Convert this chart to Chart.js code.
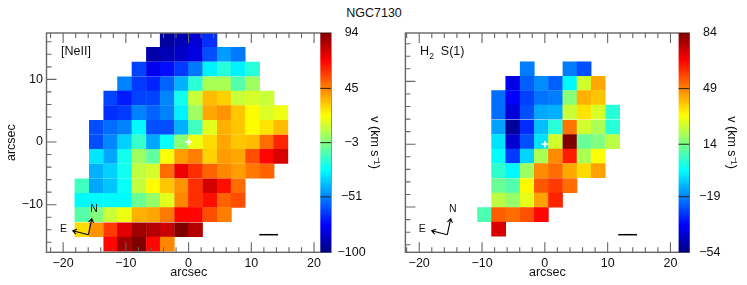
<!DOCTYPE html>
<html>
<head>
<meta charset="utf-8">
<style>
  html, body { margin: 0; padding: 0; background: #fff; }
  body { position: relative; width: 747px; height: 285px; overflow: hidden; }
  canvas { position: absolute; top: 0; filter: blur(0.35px); }
  #leftMap { left: 0; }
  #rightMap { left: 395px; }
  #title {
    position: absolute; left: 0; width: 748px; top: 6px; text-align: center;
    font: 12.5px "Liberation Sans", sans-serif; color: #111;
  }
</style>
<script src="https://cdn.jsdelivr.net/npm/chart.js@4"></script>
</head>
<body>
<div id="title">NGC7130</div>
<canvas id="leftMap" width="390" height="285"></canvas>
<canvas id="rightMap" width="352" height="285"></canvas>
<script>
const _ = null;

// [NeII] velocity map, km/s
const neiiXCenters = [-17, -14.7, -12.4, -10.2, -7.9, -5.6, -3.4, -1.1, 1.1, 3.4, 5.7, 7.9, 10.2, 12.5, 14.7];
const neiiYCenters = [16.3, 14, 11.65, 9.3, 7, 4.7, 2.35, 0, -2.3, -4.65, -7, -9.3, -11.6, -14, -16.3];
const neiiValues = [
  [_, _, _, _, _, _, -94, -90, -84, -67, _, _, _, _, _],
  [_, _, _, _, _, -92, -90, -86, -81, -61, -46, -53, _, _, _],
  [_, _, _, _, -63, -79, -73, -65, -53, -30, -20, -30, -20, _, _],
  [_, _, _, -51, -65, -69, -57, -42, -19, 5, 5, -11, 3, _, _],
  [_, _, -63, -71, -63, -63, -50, -24, 11, 34, 30, 11, 13, 11, _],
  [_, _, -67, -65, -51, -57, -51, -30, 3, 38, 42, 32, 22, 14, 18],
  [_, -61, -55, -51, -28, -61, -61, -42, -15, 16, 36, 32, 22, 26, 34],
  [_, -61, -50, -36, -17, -44, -26, -1, 18, 28, 38, 32, 34, 49, 63],
  [_, -32, -44, -24, 3, -9, 20, 40, 46, 30, 40, 38, 55, 69, 77],
  [_, -42, -36, -24, 9, 13, 49, 73, 61, 51, 44, 40, 47, 51, _],
  [-15, -44, -38, -26, 9, 22, 32, 42, 61, 78, 67, 49, _, _, _],
  [-28, -28, -28, -28, -7, 1, 16, 44, 61, 67, 51, 55, _, _, _],
  [-11, -3, 11, 18, 36, 38, 47, 69, 69, 55, 46, _, _, _, _],
  [28, 42, 59, 75, 88, 84, 80, 94, 84, _, _, _, _, _, _],
  [_, _, 69, 88, 94, 69, 44, _, _, _, _, _, _, _, _]
];
const neiiTicks = [-100, -51, -3, 45, 94];

// H2 S(1) velocity map
const h2XCenters = [-9.6, -7.35, -5.1, -2.8, -0.55, 1.7, 4, 6.25, 8.5, 10.8];
const h2YCenters = [12, 9.7, 7.4, 5.1, 2.7, 0.4, -1.9, -4.2, -6.6, -8.9, -11.2, -13.5];
const h2Values = [
  [_, _, _, -20, _, _, -20, -26, _, _],
  [_, _, -40, -24, -18, -24, -3, 26, 44, _],
  [_, -22, -37, -28, -21, -20, 16, 43, 40, _],
  [_, -22, -42, -26, -14, -13, 25, 36, 27, 3],
  [_, -15, -50, -31, -11, 3, 51, 26, 21, 3],
  [_, -6, -43, -26, -6, 26, 84, 12, 15, 23],
  [_, -2, -29, -8, 21, 48, 63, 21, 32, _],
  [_, 4, -3, 19, 48, 52, 44, 37, 45, _],
  [_, 12, 9, 33, 55, 59, 52, _, _, _],
  [_, 23, 18, 29, 45, 62, _, _, _, _],
  [8, 54, 52, 56, 66, _, _, _, _, _],
  [_, 72, _, _, _, _, _, _, _, _]
];
const h2Ticks = [-54, -19, 14, 49, 84];

const ink = "#111";
const frameColor = "#666";
const jetStops = [
  [0, "#000080"], [0.125, "#0000ff"], [0.375, "#00ffff"], [0.625, "#ffff00"],
  [0.875, "#ff0000"], [1, "#800000"]
];

function jet(t) {
  t = Math.max(0, Math.min(1, t));
  const ramp = (v) => Math.round(255 * Math.max(0, Math.min(1, v)));
  const r = t > 0.875 ? 1 - (t - 0.875) * 4 : (t - 0.375) * 4;
  const g = t < 0.375 ? (t - 0.125) * 4 : (0.875 - t) * 4;
  const b = t < 0.125 ? 0.5 + t * 4 : (0.625 - t) * 4;
  return `rgb(${ramp(r)}, ${ramp(g)}, ${ramp(b)})`;
}

function minusSign(v) {
  return String(v).replace("-", "\u2212");
}

// inward ticks, frame, colour bar, labels and compass
const mapFurniture = {
  id: "mapFurniture",
  afterDatasetsDraw(chart, args, opts) {
    const { ctx, chartArea: area, scales } = chart;
    ctx.save();

    ctx.strokeStyle = frameColor;
    ctx.lineWidth = 1.1;
    ctx.beginPath();
    scales.x.ticks.forEach(t => {
      const px = scales.x.getPixelForValue(t.value);
      const len = t.value % 10 === 0 ? 10 : 5;
      ctx.moveTo(px, area.bottom);
      ctx.lineTo(px, area.bottom - len);
      ctx.moveTo(px, area.top);
      ctx.lineTo(px, area.top + len);
    });
    scales.y.ticks.forEach(t => {
      const py = scales.y.getPixelForValue(t.value);
      ctx.moveTo(area.left, py);
      ctx.lineTo(area.left + (t.value % 10 === 0 ? 10 : 5), py);
    });
    ctx.stroke();
    ctx.lineWidth = 1.4;
    ctx.strokeRect(area.left, area.top, area.right - area.left, area.bottom - area.top);

    // colour bar sits inside the frame on the right
    const barLeft = area.right - 10.7;
    const grad = ctx.createLinearGradient(0, area.bottom, 0, area.top);
    jetStops.forEach(s => grad.addColorStop(s[0], s[1]));
    ctx.fillStyle = grad;
    ctx.fillRect(barLeft, area.top, area.right - barLeft, area.bottom - area.top);
    ctx.strokeStyle = "#222";
    ctx.lineWidth = 1;
    ctx.beginPath();
    opts.barTicks.slice(1, -1).forEach(v => {
      const py = scales.cbar.getPixelForValue(v);
      ctx.moveTo(barLeft, py);
      ctx.lineTo(area.right, py);
    });
    ctx.stroke();

    // panel label
    ctx.fillStyle = ink;
    ctx.textBaseline = "middle";
    ctx.textAlign = "left";
    ctx.font = '12.5px "Liberation Sans"';
    const labelX = area.left + opts.labelDx;
    const labelY = area.top + 18.7;
    if (opts.subscript) {
      ctx.fillText(opts.label, labelX, labelY);
      let w = ctx.measureText(opts.label).width;
      ctx.font = '8.5px "Liberation Sans"';
      ctx.fillText(opts.subscript, labelX + w, labelY + 5);
      w += ctx.measureText(opts.subscript).width;
      ctx.font = '12.5px "Liberation Sans"';
      ctx.fillText(opts.labelTail, labelX + w + 7, labelY);
    } else {
      ctx.fillText(opts.label, labelX, labelY);
    }

    // N/E compass
    const ox = area.left + 41.9;
    const oy = 234.7;
    ctx.strokeStyle = "#000";
    ctx.lineWidth = 1.1;
    const arrow = (dx, dy) => {
      const ang = Math.atan2(dy, dx);
      const tx = ox + dx;
      const ty = oy + dy;
      ctx.beginPath();
      ctx.moveTo(ox, oy);
      ctx.lineTo(tx, ty);
      ctx.moveTo(tx - 4.5 * Math.cos(ang - 0.6), ty - 4.5 * Math.sin(ang - 0.6));
      ctx.lineTo(tx, ty);
      ctx.lineTo(tx - 4.5 * Math.cos(ang + 0.6), ty - 4.5 * Math.sin(ang + 0.6));
      ctx.stroke();
    };
    arrow(3.4, -16);
    arrow(-15.6, -4);
    ctx.textAlign = "center";
    ctx.font = '10.5px "Liberation Sans"';
    ctx.fillText("N", ox + 5.6, oy - 25.4);
    ctx.fillText("E", ox - 25, oy - 5.7);

    // size bar
    ctx.lineWidth = 1.5;
    ctx.beginPath();
    ctx.moveTo(area.left + 212.8, oy);
    ctx.lineTo(area.left + 231.6, oy);
    ctx.stroke();

    ctx.restore();
  }
};

function makeMap(canvasId, panel) {
  const cells = [];
  panel.values.forEach((row, j) => {
    row.forEach((v, i) => {
      if (v === null) return;
      cells.push({ x: panel.xCenters[i], y: panel.yCenters[j], v: v });
    });
  });
  const lo = panel.barTicks[0];
  const hi = panel.barTicks[panel.barTicks.length - 1];

  return new Chart(document.getElementById(canvasId), {
    type: "scatter",
    data: {
      datasets: [
        {
          data: [{ x: 0, y: 0 }],
          pointStyle: "cross",
          pointRadius: 3.2,
          borderColor: "#fff",
          borderWidth: 1.8
        },
        {
          data: cells,
          pointStyle: "rect",
          pointRadius: 10.4,
          borderWidth: 0,
          backgroundColor: cells.map(c => jet((c.v - lo) / (hi - lo)))
        }
      ]
    },
    plugins: [mapFurniture],
    options: {
      responsive: false,
      animation: false,
      events: [],
      layout: { padding: { top: 33, left: 0, right: 0, bottom: 0 } },
      plugins: {
        legend: { display: false },
        tooltip: { enabled: false },
        mapFurniture: {
          barTicks: panel.barTicks,
          label: panel.label,
          subscript: panel.subscript,
          labelTail: panel.labelTail,
          labelDx: panel.labelDx
        }
      },
      scales: {
        x: {
          type: "linear",
          min: panel.xRange[0],
          max: panel.xRange[1],
          afterFit(s) { s.height = 32.7; },
          grid: { display: false, drawTicks: false },
          border: { display: false },
          ticks: {
            stepSize: 2,
            includeBounds: false,
            autoSkip: false,
            maxRotation: 0,
            padding: 4,
            color: ink,
            callback: (v) => (v % 10 === 0 ? minusSign(v) : "")
          },
          title: { display: true, text: "arcsec", color: ink, padding: { top: 0, bottom: 4.8 } }
        },
        y: {
          type: "linear",
          min: panel.yRange[0],
          max: panel.yRange[1],
          afterFit(s) { s.width = panel.leftWidth; },
          grid: { display: false, drawTicks: false },
          border: { display: false },
          ticks: {
            display: panel.showY,
            stepSize: 2,
            includeBounds: false,
            autoSkip: false,
            padding: 3.5,
            color: ink,
            callback: (v) => (v % 10 === 0 ? minusSign(v) : "")
          },
          title: { display: panel.showY, text: "arcsec", color: ink, padding: { top: 4.2, bottom: 0 } }
        },
        cbar: {
          type: "linear",
          axis: "y",
          position: "right",
          min: lo,
          max: hi,
          afterFit(s) { s.width = panel.rightWidth; },
          afterBuildTicks(s) { s.ticks = panel.barTicks.map(v => ({ value: v })); },
          grid: { display: false, drawTicks: false },
          border: { display: false },
          ticks: {
            crossAlign: "center",
            padding: panel.barPadding,
            color: ink,
            callback: (v) => minusSign(v)
          },
          title: { display: true, text: "v (km s\u207B\u00B9)", color: ink, padding: { top: 8.5, bottom: 0 } }
        }
      }
    }
  });
}

document.addEventListener("DOMContentLoaded", () => {
  Chart.defaults.font.family = '"Liberation Sans", sans-serif';
  Chart.defaults.font.size = 12.5;

  makeMap("leftMap", {
    xCenters: neiiXCenters,
    yCenters: neiiYCenters,
    values: neiiValues,
    barTicks: neiiTicks,
    xRange: [-22.65, 22.7],
    yRange: [-17.6, 17.4],
    leftWidth: 46.5,
    rightWidth: 59,
    barPadding: 6.5,
    showY: true,
    label: "[NeII]",
    labelDx: 14.5
  });

  makeMap("rightMap", {
    xCenters: h2XCenters,
    yCenters: h2YCenters,
    values: h2Values,
    barTicks: h2Ticks,
    xRange: [-22.2, 23],
    yRange: [-17.2, 17.7],
    leftWidth: 10.3,
    rightWidth: 57.7,
    barPadding: 10,
    showY: false,
    label: "H",
    subscript: "2",
    labelTail: "S(1)",
    labelDx: 14.7
  });
});
</script>
</body>
</html>
